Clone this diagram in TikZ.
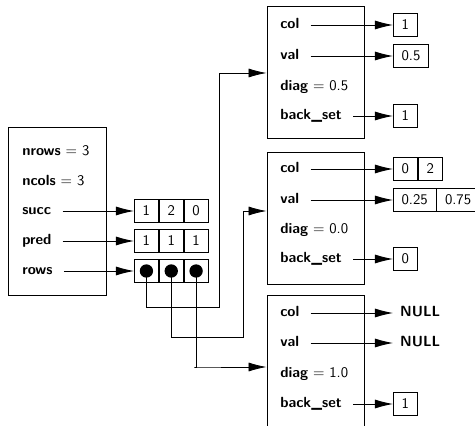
\documentclass[tikz,border=0pt]{standalone}
\usepackage{tikz}
\usetikzlibrary{positioning,arrows.meta,calc}

\begin{document}
\begin{tikzpicture}[
  x=0.72pt, y=-0.72pt,
  font=\sffamily\fontsize{10.6}{12}\selectfont,
  box/.style={draw, line width=0.6pt, minimum width=69.8pt, minimum height=95pt, inner sep=0pt},
  lab/.style={anchor=west, inner sep=0pt, text height=1.6ex, text depth=0.3ex},
  cell/.style={draw, line width=0.6pt, anchor=west, inner xsep=5.9pt, inner ysep=0pt, minimum width=17.28pt, minimum height=17pt},
  dot/.style={circle, fill, inner sep=0pt, minimum size=9.6pt},
  ptr/.style={-{Latex[length=13pt, width=6.5pt]}, line width=0.6pt},
  arr/.style={ptr, shorten <=8pt}]

\clip (0,0) rectangle (475,426);

% matrix struct
\node[box, minimum width=70.6pt, minimum height=121pt] (m) at (57,211) {};
\node[lab] (nr) at (22,152) {\textbf{nrows} = 3};
\node[lab] (nc) at (22,182) {\textbf{ncols} = 3};
\node[lab] (su) at (22,211) {\textbf{succ}};
\node[lab] (pr) at (22,241) {\textbf{pred}};
\node[lab] (ro) at (22,271) {\textbf{rows}};

\node[cell] (s1) at (134,211) {1};
\node[cell] (s2) at (s1.east) {2};
\node[cell] (s3) at (s2.east) {0};
\node[cell] (p1) at (134,241) {1};
\node[cell] (p2) at (p1.east) {1};
\node[cell] (p3) at (p2.east) {1};
\node[cell] (r1) at (134,271) {};
\node[cell] (r2) at (r1.east) {};
\node[cell] (r3) at (r2.east) {};
\foreach \n in {1,2,3} \node[dot] (d\n) at (r\n) {};

% rows
\node[box] (b1) at (315.5,72) {};
\node[box] (b2) at (315.5,218) {};
\node[box] (b3) at (315.5,361) {};

\node[lab] (col1) at (280,25) {\textbf{col}};
\node[lab] (val1) at (280,56) {\textbf{val}};
\node[lab] (dg1) at (280,87) {\textbf{diag} = 0.5};
\node[lab] (bs1) at (280,116) {\textbf{back\_set}};
\node[lab] (col2) at (280,169) {\textbf{col}};
\node[lab] (val2) at (280,200) {\textbf{val}};
\node[lab] (dg2) at (280,230) {\textbf{diag} = 0.0};
\node[lab] (bs2) at (280,259) {\textbf{back\_set}};
\node[lab] (col3) at (280,313) {\textbf{col}};
\node[lab] (val3) at (280,343) {\textbf{val}};
\node[lab] (dg3) at (280,374) {\textbf{diag} = 1.0};
\node[lab] (bs3) at (280,404) {\textbf{back\_set}};

\node[cell] (cv1) at (393,25) {1};
\node[cell] (vv1) at (393,56) {0.5};
\node[cell] (bv1) at (393,116) {1};
\node[cell] (cv2) at (393,169) {0};
\node[cell] (cv2b) at (cv2.east) {2};
\node[cell] (vv2) at (393,200) {0.25};
\node[cell] (vv2b) at (vv2.east) {0.75};
\node[cell] (bv2) at (393,259) {0};
\node[lab, inner xsep=5pt] (cv3) at (393,313) {\textbf{NULL}};
\node[lab, inner xsep=5pt] (vv3) at (393,343) {\textbf{NULL}};
\node[cell] (bv3) at (393,404) {1};

\coordinate (k1) at (219,307);
\coordinate (k2) at (243,337);
\coordinate (k3) at (194,367);

\foreach \a/\b in {su/s1,pr/p1,ro/r1} \draw[arr] (\a.east) -- (\b.west);
\foreach \a/\b in {col1/cv1,val1/vv1,bs1/bv1,col2/cv2,val2/vv2,bs2/bv2,col3/cv3,val3/vv3,bs3/bv3}
  \draw[arr] (\a.east) -- (\b.west);

\draw[ptr] (d1.center) |- (k1) |- ($(b1.west)+(0,1)$);
\draw[ptr] (d2.center) |- (k2) |- ($(b2.west)+(0,-7)$);
\draw[ptr] (d3.center) |- (k3) -- (k3 -| b3.west);
\end{tikzpicture}
\end{document}
